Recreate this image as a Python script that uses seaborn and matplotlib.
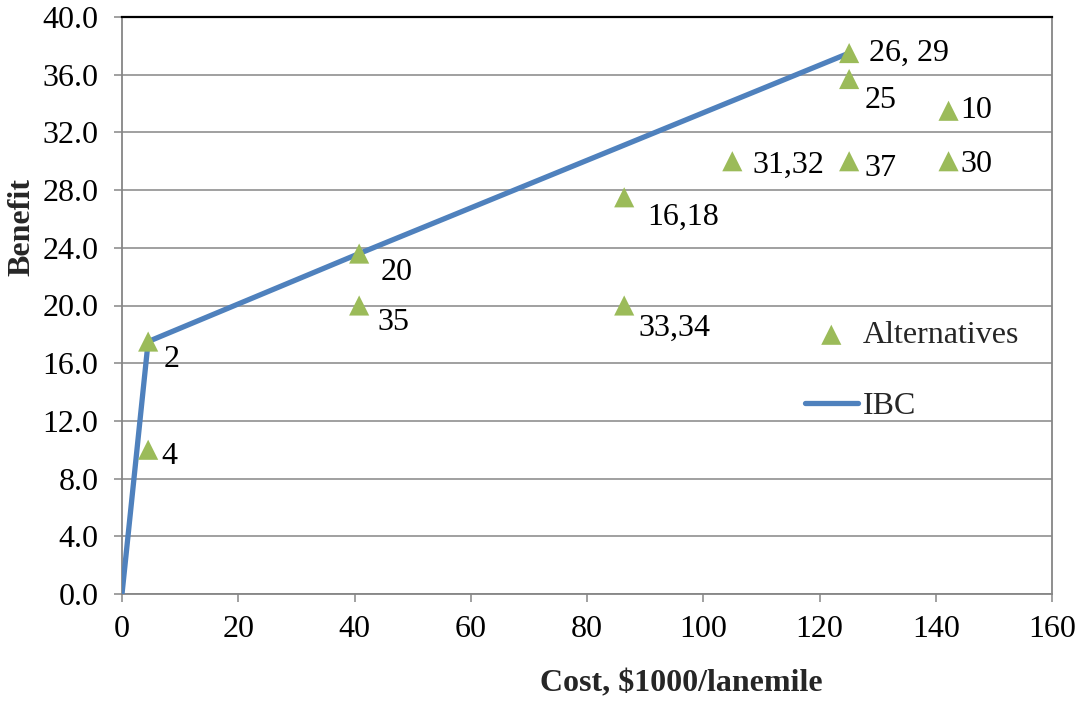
import matplotlib
matplotlib.use("Agg")
import matplotlib.pyplot as plt
import seaborn as sns
import pandas as pd
from matplotlib.ticker import FormatStrFormatter

# ---- data ----
alt_labels = ["2", "4", "20", "35", "16,18", "33,34", "31,32", "26, 29", "25", "37", "10", "30"]
alt_cost = [4.5, 4.5, 40.8, 40.8, 86.4, 86.4, 105.0, 125.1, 125.1, 125.1, 142.2, 142.2]
alt_benefit = [17.5, 10.0, 23.6, 20.0, 27.5, 20.0, 30.0, 37.5, 35.7, 30.0, 33.5, 30.0]

ibc_cost = [0.0, 4.5, 40.8, 125.1]
ibc_benefit = [0.0, 17.5, 23.6, 37.5]

x_ticks = [0, 20, 40, 60, 80, 100, 120, 140, 160]
y_ticks = [0, 4, 8, 12, 16, 20, 24, 28, 32, 36, 40]

# label offsets in pixels (dx, dy) -- styling only
label_offsets = {
    "2": (15, -18), "4": (13, -7), "20": (21, -19), "35": (18, -17),
    "16,18": (23, -20), "33,34": (14, -23), "31,32": (20, -4),
    "26, 29": (20, 0), "25": (15, -21), "37": (15, -7), "10": (12, 0), "30": (12, -3),
}

sns.set_theme(style="white")
plt.rcParams["font.family"] = ["Liberation Serif", "DejaVu Serif"]

GREEN = "#9BBB59"
BLUE = "#4F81BD"
GRID = "#868686"
FS = 23

fig = plt.figure(figsize=(10.86, 7.02), dpi=100)
ax = fig.add_axes([122 / 1086, 1 - 594 / 702, (1052 - 122) / 1086, (594 - 17) / 702])

alt_df = pd.DataFrame({"Cost": alt_cost, "Benefit": alt_benefit, "label": alt_labels})
ibc_df = pd.DataFrame({"Cost": ibc_cost, "Benefit": ibc_benefit})

sns.lineplot(data=ibc_df, x="Cost", y="Benefit", sort=False, color=BLUE, linewidth=3.8,
             ax=ax, label="IBC", zorder=3, solid_capstyle="round")
sns.scatterplot(data=alt_df, x="Cost", y="Benefit", marker="^", s=210, color=GREEN,
                edgecolor="none", linewidth=0, ax=ax, label="Alternatives", zorder=4)

px2pt = 72 / 100
for lab, cx, cy in zip(alt_labels, alt_cost, alt_benefit):
    dx, dy = label_offsets[lab]
    ax.annotate(lab, (cx, cy), xytext=(dx * px2pt, dy * px2pt), textcoords="offset points",
                ha="left", va="center", fontsize=FS, color="black", zorder=5)

ax.set_xlim(0, 160)
ax.set_ylim(0, 40)
ax.set_xticks(x_ticks)
ax.set_yticks(y_ticks)
ax.yaxis.set_major_formatter(FormatStrFormatter("%.1f"))
ax.xaxis.set_major_formatter(FormatStrFormatter("%d"))

ax.yaxis.grid(True, color=GRID, linewidth=1.1)
ax.xaxis.grid(False)
ax.set_axisbelow(True)

for side in ["left", "bottom", "right"]:
    ax.spines[side].set_color(GRID)
    ax.spines[side].set_linewidth(1.3)
    ax.spines[side].set_visible(True)
ax.spines["top"].set_color("black")
ax.spines["top"].set_linewidth(1.6)
ax.spines["top"].set_visible(True)

ax.tick_params(axis="both", which="major", direction="out", length=6, width=1.1,
               color=GRID, labelsize=FS, labelcolor="black", left=True, bottom=True)
ax.tick_params(axis="y", pad=11)
ax.tick_params(axis="x", pad=9)

ax.set_xlabel("Cost, $1000/lanemile", fontsize=FS, fontweight="bold")
ax.set_ylabel("Benefit", fontsize=FS, fontweight="bold")
ax.xaxis.label.set_va("center")
ax.yaxis.label.set_va("center")
ax.xaxis.set_label_coords((681 - 122) / 930, (594 - 684) / 577)
ax.yaxis.set_label_coords((22 - 122) / 930, (594 - 227) / 577)

handles, labels = ax.get_legend_handles_labels()
order = [labels.index("Alternatives"), labels.index("IBC")]
leg = ax.legend([handles[i] for i in order], [labels[i] for i in order],
                loc="upper left", bbox_to_anchor=((792 - 122) / 930, (594 - 308) / 577),
                frameon=False, fontsize=FS, handlelength=1.66, handletextpad=0.15,
                labelspacing=1.3, borderaxespad=0)

fig.savefig("out.png", dpi=100, facecolor="white")
